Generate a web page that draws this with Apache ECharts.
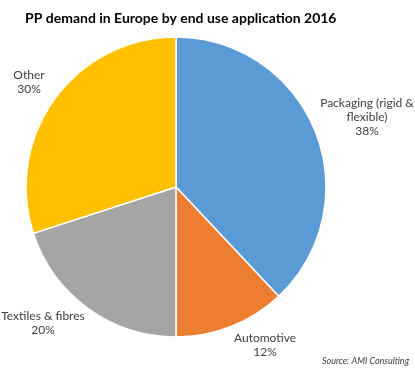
<!DOCTYPE html>
<html><head><meta charset="utf-8">
<script src="https://cdn.jsdelivr.net/npm/echarts@6/dist/echarts.min.js"></script>
<style>html,body{margin:0;padding:0;background:#fff}#c{width:415px;height:372px}</style>
</head><body><div id="c"></div>
<script>
var categories = ['Packaging (rigid &\nflexible)', 'Automotive', 'Textiles & fibres', 'Other'];
var values = [38, 12, 20, 30];
var colors = ['#5B9BD5', '#ED7D31', '#A5A5A5', '#FFC000'];
var labelPos = [[367, 117], [265, 345], [43, 323], [29, 82]];

var chart = echarts.init(document.getElementById('c'));
chart.setOption({
  animation: false,
  title: {
    text: 'PP demand in Europe by end use application 2016',
    left: 20, top: 6,
    textStyle: { fontFamily: 'Lato', fontWeight: 'bold', fontSize: 14, color: '#000' }
  },
  graphic: [{
    type: 'text', right: 6, top: 357,
    style: { text: 'Source: AMI Consulting', font: 'italic 9px Lato', fill: '#404040' }
  }],
  series: [{
    type: 'pie',
    center: [176, 187],
    radius: [0, 150],
    startAngle: 90,
    clockwise: true,
    data: categories.map(function (c, i) {
      return { name: c, value: values[i], itemStyle: { color: colors[i] } };
    }),
    itemStyle: { borderColor: '#fff', borderWidth: 1.5 },
    label: {
      show: true,
      position: 'inside',
      formatter: function (p) { return p.name + '\n' + p.value + '%'; },
      fontFamily: 'Lato', fontSize: 12, color: '#404040',
      lineHeight: 14, align: 'center'
    },
    labelLine: { show: false },
    labelLayout: function (p) {
      var pos = labelPos[p.dataIndex];
      return { x: pos[0], y: pos[1], align: 'center', verticalAlign: 'middle' };
    }
  }]
});
</script></body></html>
